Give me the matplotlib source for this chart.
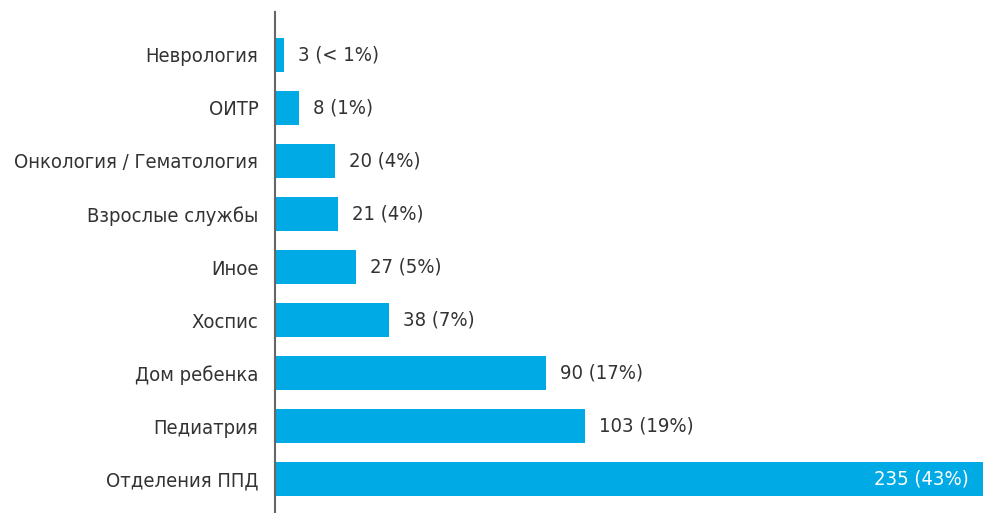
import matplotlib
matplotlib.use("Agg")
import matplotlib.pyplot as plt

categories = ["Неврология", "ОИТР", "Онкология / Гематология", "Взрослые службы",
              "Иное", "Хоспис", "Дом ребенка", "Педиатрия", "Отделения ППД"]
values = [3, 8, 20, 21, 27, 38, 90, 103, 235]
value_labels = ["3 (< 1%)", "8 (1%)", "20 (4%)", "21 (4%)", "27 (5%)", "38 (7%)",
                "90 (17%)", "103 (19%)", "235 (43%)"]

plt.rcParams['font.family'] = ['DejaVu Sans']
plt.rcParams['font.stretch'] = 'condensed'

W, H = 983, 513
fig = plt.figure(figsize=(W/100, H/100), dpi=100)
ax = fig.add_axes([275/W, 0, 1 - 275/W, 1 - 12/H])

bar_color = "#00AAE4"
text_color = "#333333"
ypos = list(range(len(categories)))
ax.barh(ypos, values, height=0.64, color=bar_color, left=0)
ax.set_xlim(0, 235)
ax.set_ylim(8.64, -0.81)

ax.set_yticks(ypos)
ax.set_yticklabels(categories, fontsize=14.5, color=text_color, fontstretch='condensed')
ax.tick_params(axis='y', length=0, pad=12)
ax.set_xticks([])
for s in ["top", "right", "bottom"]:
    ax.spines[s].set_visible(False)
ax.spines["left"].set_color("#666666")
ax.spines["left"].set_linewidth(1.5)

for i, (v, lab) in enumerate(zip(values, value_labels)):
    if v > 200:
        ax.annotate(lab, (v, i), xytext=(-14, 0), textcoords="offset pixels",
                    ha="right", va="center", fontsize=14.5, color="white",
                    fontstretch='condensed')
    else:
        ax.annotate(lab, (v, i), xytext=(14, 0), textcoords="offset pixels",
                    ha="left", va="center", fontsize=14.5, color=text_color,
                    fontstretch='condensed')

fig.savefig("out.png", dpi=100)
